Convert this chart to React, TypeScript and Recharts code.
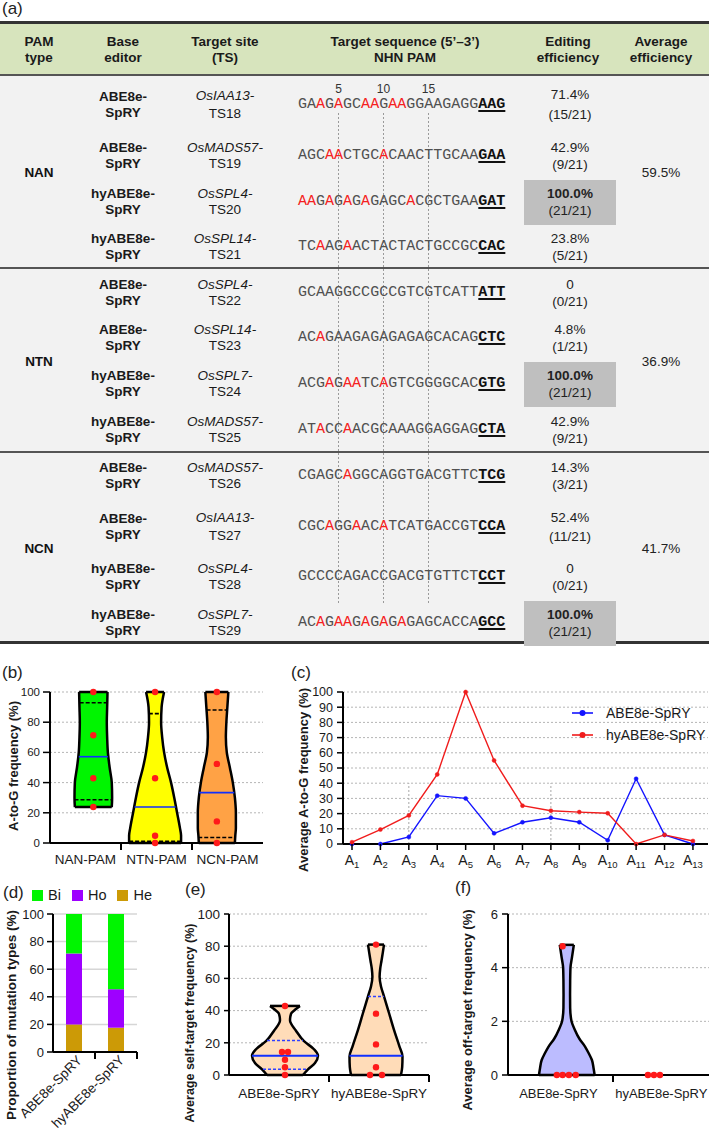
import React from "react";
import {
  ComposedChart,
  LineChart,
  BarChart,
  Area,
  Line,
  Bar,
  Scatter,
  XAxis,
  YAxis,
  CartesianGrid,
  ReferenceLine,
} from "recharts";

const FONT = '"Liberation Sans", Arial, Helvetica, sans-serif';
const MONO = '"Liberation Mono", "Courier New", monospace';

// ---------- (a) table ----------
const pamTypes = ["NAN", "NTN", "NCN"];
const pamAverages = ["59.5%", "36.9%", "41.7%"];
const tsEditors = [
  "ABE8e-SpRY", "ABE8e-SpRY", "hyABE8e-SpRY", "hyABE8e-SpRY",
  "ABE8e-SpRY", "ABE8e-SpRY", "hyABE8e-SpRY", "hyABE8e-SpRY",
  "ABE8e-SpRY", "ABE8e-SpRY", "hyABE8e-SpRY", "hyABE8e-SpRY",
];
const tsGenes = ["OsIAA13", "OsMADS57", "OsSPL4", "OsSPL14", "OsSPL4", "OsSPL14", "OsSPL7", "OsMADS57", "OsMADS57", "OsIAA13", "OsSPL4", "OsSPL7"];
const tsIds = ["TS18", "TS19", "TS20", "TS21", "TS22", "TS23", "TS24", "TS25", "TS26", "TS27", "TS28", "TS29"];
const tsSpacers = [
  "GAAGAGCAAGAAGGAAGAGG", "AGCAACTGCACAACTTGCAA", "AAGAGAGAGAGCACGCTGAA", "TCAAGAACTACTACTGCCGC",
  "GCAAGGCCGCCGTCGTCATT", "ACAGAAGAGAGAGAGCACAG", "ACGAGAATCAGTCGGGGCAC", "ATACCAACGCAAAGGAGGAG",
  "CGAGCAGGCAGGTGACGTTC", "CGCAGGAACATCATGACCGT", "GCCCCAGACCGACGTGTTCT", "ACAGAAGAGAGAGAGCACCA",
];
const tsPams = ["AAG", "GAA", "GAT", "CAC", "ATT", "CTC", "GTG", "CTA", "TCG", "CCA", "CCT", "GCC"];
const tsEdited = [
  [3, 5, 8, 9, 11, 12], [4, 5, 10], [1, 2, 4, 6, 8, 13], [3, 6],
  [], [3], [4, 6, 7, 10], [3, 6],
  [6], [4, 7, 10], [], [3, 5, 6, 8, 10, 12],
];
const tsEfficiency = ["71.4%", "42.9%", "100.0%", "23.8%", "0", "4.8%", "100.0%", "42.9%", "14.3%", "52.4%", "0", "100.0%"];
const tsCounts = ["(15/21)", "(9/21)", "(21/21)", "(5/21)", "(0/21)", "(1/21)", "(21/21)", "(9/21)", "(3/21)", "(11/21)", "(0/21)", "(21/21)"];
const windowMarks = [5, 10, 15];

const rowY = [105, 156, 202, 247, 293, 338, 384, 430, 476, 527, 577, 623];
const sectionY = [173, 362, 549];
const SEQ_LEFT = 298;
const CHAR_W = 9;

// ---------- (b) ----------
const bGroups = ["NAN-PAM", "NTN-PAM", "NCN-PAM"];
const bCenters = [0.61, 1.48, 2.35];
const bLevelsNAN = [23.8, 30, 40, 50, 60, 70, 80, 90, 100];
const bHalfNAN = [0.26, 0.265, 0.26, 0.23, 0.205, 0.195, 0.19, 0.195, 0.2];
const bLevels = [0, 5, 10, 20, 30, 40, 50, 60, 70, 80, 90, 100];
const bHalfNTN = [0.366, 0.366, 0.35, 0.31, 0.27, 0.225, 0.17, 0.127, 0.1, 0.085, 0.092, 0.127];
const bHalfNCN = [0.254, 0.26, 0.268, 0.268, 0.254, 0.225, 0.183, 0.14, 0.127, 0.134, 0.148, 0.162];
const bPoints = [[100, 71.4, 42.9, 23.8], [100, 42.9, 4.8, 0], [100, 52.4, 14.3, 0]];
const bMedians = [57.15, 23.85, 33.35];
const bMedianHalf = [0.205, 0.29, 0.245];
const bQuartiles = [[28.6, 92.9], [1.2, 85.7], [3.6, 88.1]];
const bQuartileHalf = [[0.265, 0.192], [0.366, 0.088], [0.262, 0.145]];

// ---------- (c) ----------
const cPositions = [1, 2, 3, 4, 5, 6, 7, 8, 9, 10, 11, 12, 13];
const cABE = [0, 0, 4.6, 31.8, 30, 7, 14.3, 17.3, 14.3, 2.4, 42.9, 6, 0];
const cHy = [1.2, 9.5, 18.8, 45.8, 100, 55, 25.2, 21.9, 21, 20.2, 0, 6, 2];
const cMarkers = [3, 8];

// ---------- (d) ----------
const dEditors = ["ABE8e-SpRY", "hyABE8e-SpRY"];
const dHe = [20, 17.6];
const dHo = [51.4, 27.9];
const dBi = [28.6, 54.5];

// ---------- (e) ----------
const eEditors = ["ABE8e-SpRY", "hyABE8e-SpRY"];
const eCenters = [0.56, 1.47];
const eLevelsABE = [0, 3.5, 7.5, 12, 16, 21, 27.5, 34, 38, 40.5, 42.9];
const eHalfABE = [0.18, 0.23, 0.3, 0.33, 0.29, 0.19, 0.11, 0.05, 0.06, 0.1, 0.15];
const eLevelsHy = [0, 5, 11.5, 17.6, 28, 38.5, 48.9, 55, 61, 66, 71, 76, 81];
const eHalfHy = [0.25, 0.262, 0.265, 0.235, 0.18, 0.13, 0.08, 0.05, 0.036, 0.042, 0.055, 0.068, 0.08];
const ePointsABE = [42.9, 14.3, 14.3, 9.5, 4.8, 0];
const eJitterABE = [0, -0.03, 0.03, 0, 0, 0];
const ePointsHy = [81, 38.1, 19, 4.8, 0, 0];
const eJitterHy = [0, 0, 0, 0, -0.06, 0.06];
const eMedians = [11.9, 11.9];
const eMedianHalf = [0.33, 0.265];
const eQuartiles = [[3.6, 21.5], [0, 48.8]];
const eQuartileHalf = [[0.22, 0.18], [0.25, 0.08]];

// ---------- (f) ----------
const fEditors = ["ABE8e-SpRY", "hyABE8e-SpRY"];
const fCenters = [0.56, 1.39];
const fLevels = [0, 0.25, 0.55, 0.8, 1.05, 1.35, 1.7, 2.0, 2.5, 3.0, 3.5, 4.0, 4.4, 4.85];
const fHalfABE = [0.265, 0.255, 0.24, 0.21, 0.175, 0.12, 0.075, 0.045, 0.032, 0.031, 0.032, 0.035, 0.05, 0.067];
const fPointsABE = [4.8, 0, 0, 0, 0];
const fJitterABE = [-0.04, -0.095, -0.04, 0.02, 0.085];
const fPointsHy = [0, 0, 0];
const fJitterHy = [-0.057, 0, 0.057];

const axisLineStyle = { stroke: "#000", strokeWidth: 2 };
const tickLineStyle = { stroke: "#000", strokeWidth: 1.5 };

const redDot = (p: any) => <circle cx={p.cx} cy={p.cy} r={3.2} fill="#ff1a1a" />;

function violinRows(levels: number[], halves: number[], center: number) {
  return levels.map((y, i) => ({ y, band: [center - halves[i], center + halves[i]] }));
}

function violin(key: string, levels: number[], halves: number[], center: number, fill: string) {
  const last = levels.length - 1;
  return [
    <Area
      key={key}
      data={violinRows(levels, halves, center)}
      dataKey="band"
      type="monotone"
      fill={fill}
      fillOpacity={1}
      stroke="#000"
      strokeWidth={2.5}
      dot={false}
      activeDot={false}
      legendType="none"
      isAnimationActive={false}
    />,
    <ReferenceLine
      key={key + "-bottom"}
      segment={[{ x: center - halves[0], y: levels[0] }, { x: center + halves[0], y: levels[0] }]}
      stroke="#000"
      strokeWidth={2.5}
    />,
    <ReferenceLine
      key={key + "-top"}
      segment={[{ x: center - halves[last], y: levels[last] }, { x: center + halves[last], y: levels[last] }]}
      stroke="#000"
      strokeWidth={2.5}
    />,
  ];
}

function hLine(key: string, center: number, half: number, y: number, stroke: string, dash?: string, width = 1.6) {
  return (
    <ReferenceLine
      key={key}
      segment={[{ x: center - half, y }, { x: center + half, y }]}
      stroke={stroke}
      strokeWidth={width}
      strokeDasharray={dash}
    />
  );
}

function GroupTick(p: any) {
  const v = p.payload.value;
  if (Number.isInteger(v)) {
    return <line x1={p.x} y1={p.y - 6} x2={p.x} y2={p.y + 1} stroke="#000" strokeWidth={2} />;
  }
  return (
    <text x={p.x} y={p.y + p.dyText} textAnchor="middle" fontSize={p.fontSize} fill="#1a1a1a" fontFamily={FONT}>
      {p.labels[Math.floor(v)]}
    </text>
  );
}

function SubTick(p: any) {
  return (
    <g>
      <line x1={p.x} y1={p.y - 6} x2={p.x} y2={p.y} stroke="#000" strokeWidth={1.5} />
      <text x={p.x} y={p.y + 15} textAnchor="middle" fontSize={14} fill="#1a1a1a" fontFamily={FONT}>
        A<tspan fontSize={9.5} dy={3}>{p.payload.value}</tspan>
      </text>
    </g>
  );
}

function RotTick(p: any) {
  const ax = p.x + 9;
  const ay = p.y + 3;
  return (
    <g>
      <line x1={p.x + 21} y1={p.y - 6} x2={p.x + 21} y2={p.y + 1} stroke="#000" strokeWidth={2} />
      <text x={ax} y={ay} transform={`rotate(-45 ${ax} ${ay})`} textAnchor="end" fontSize={13.5} fill="#1a1a1a" fontFamily={FONT}>
        {p.payload.value}
      </text>
    </g>
  );
}

function PanelLabel({ x, y, text }: { x: number; y: number; text: string }) {
  return (
    <div style={{ position: "absolute", left: x, top: y - 10, lineHeight: "20px", fontSize: 17, color: "#222" }}>{text}</div>
  );
}

function VTitle({ x, y, text, size = 13 }: { x: number; y: number; text: string; size?: number }) {
  return (
    <div
      style={{
        position: "absolute",
        left: x,
        top: y,
        transform: "translate(-50%, -50%) rotate(-90deg)",
        whiteSpace: "nowrap",
        fontWeight: "bold",
        fontSize: size,
        color: "#1a1a1a",
      }}
    >
      {text}
    </div>
  );
}

function Sequence({ i }: { i: number }) {
  return (
    <span>
      {tsSpacers[i].split("").map((ch, k) => (
        <span key={k} style={{ color: tsEdited[i].includes(k + 1) ? "#f52020" : "#505050" }}>{ch}</span>
      ))}
      <span style={{ fontWeight: "bold", color: "#111", textDecoration: "underline", textDecorationThickness: "2px", textUnderlineOffset: "2px" }}>
        {tsPams[i]}
      </span>
    </span>
  );
}

function TablePanel() {
  const headers = [
    [39, "PAM", "type"],
    [123, "Base", "editor"],
    [225, "Target site", "(TS)"],
    [405, "Target sequence (5\u2019\u20133\u2019)", "NHN PAM"],
    [568, "Editing", "efficiency"],
    [661, "Average", "efficiency"],
  ] as const;
  const twoLine = (cx: number, cy: number, w: number, lh: number, a: React.ReactNode, b: React.ReactNode, style: React.CSSProperties = {}) => (
    <div style={{ position: "absolute", left: cx - w / 2, width: w, top: cy - lh, lineHeight: lh + "px", textAlign: "center", fontSize: 13.5, color: "#1a1a1a", ...style }}>
      <div>{a}</div>
      <div>{b}</div>
    </div>
  );
  const dashX = windowMarks.map((n) => SEQ_LEFT + (n - 0.5) * CHAR_W);
  return (
    <>
      <div style={{ position: "absolute", left: 0, top: 22, width: 709, height: 53, background: "#d7e4bd" }} />
      <div style={{ position: "absolute", left: 0, top: 75, width: 709, height: 567, background: "#f2f2f2" }} />
      <div style={{ position: "absolute", left: 0, top: 21, width: 709, height: 3, background: "#333" }} />
      <div style={{ position: "absolute", left: 0, top: 74, width: 709, height: 2, background: "#555" }} />
      <div style={{ position: "absolute", left: 0, top: 267, width: 709, height: 2, background: "#555" }} />
      <div style={{ position: "absolute", left: 0, top: 451, width: 709, height: 2, background: "#555" }} />
      <div style={{ position: "absolute", left: 0, top: 641, width: 709, height: 3, background: "#333" }} />
      {headers.map(([cx, a, b]) => (
        <React.Fragment key={a}>{twoLine(cx, 50, 170, 16, a, b, { fontWeight: "bold" })}</React.Fragment>
      ))}
      {tsEfficiency.map((eff, i) =>
        eff === "100.0%" ? (
          <div key={"box" + i} style={{ position: "absolute", left: 524, width: 92, top: rowY[i] - 22, height: 45, background: "#bfbfbf" }} />
        ) : null
      )}
      <svg style={{ position: "absolute", left: 0, top: 0 }} width={709} height={650}>
        {dashX.map((x) => (
          <line key={x} x1={x} y1={113} x2={x} y2={603} stroke="#9a9a9a" strokeWidth={1} strokeDasharray="2 2" />
        ))}
      </svg>
      {windowMarks.map((n, k) => (
        <div key={n} style={{ position: "absolute", left: dashX[k] - 15, width: 30, top: 83, lineHeight: "12px", textAlign: "center", fontSize: 12, color: "#333" }}>
          {n}
        </div>
      ))}
      {pamTypes.map((t, s) => (
        <React.Fragment key={t}>
          <div style={{ position: "absolute", left: 0, width: 78, top: sectionY[s] - 8, lineHeight: "16px", textAlign: "center", fontWeight: "bold", fontSize: 13.5 }}>{t}</div>
          <div style={{ position: "absolute", left: 611, width: 100, top: sectionY[s] - 8, lineHeight: "16px", textAlign: "center", fontSize: 13.5, color: "#222" }}>{pamAverages[s]}</div>
        </React.Fragment>
      ))}
      {rowY.map((cy, i) => {
        const [ed1, ed2] = tsEditors[i].split("-");
        const tLh = i === 0 || i === 9 ? 18 : 16;
        const eLh = i === 0 ? 20 : i === 9 ? 19 : 17;
        const full = tsEfficiency[i] === "100.0%";
        return (
          <React.Fragment key={i}>
            {twoLine(123, cy, 110, 16, ed1 + "-", ed2, { fontWeight: "bold" })}
            {twoLine(225, cy, 120, tLh, <i>{tsGenes[i]}-</i>, tsIds[i])}
            <div style={{ position: "absolute", left: SEQ_LEFT, top: cy - 9, lineHeight: "18px", fontFamily: MONO, fontSize: 15, whiteSpace: "pre" }}>
              <Sequence i={i} />
            </div>
            {twoLine(570, cy, 100, eLh, full ? <b>{tsEfficiency[i]}</b> : tsEfficiency[i], tsCounts[i], { color: "#222" })}
          </React.Fragment>
        );
      })}
    </>
  );
}

function PanelB() {
  const dots = bPoints.flatMap((pts, g) => pts.map((y) => ({ x: bCenters[g], y })));
  return (
    <ComposedChart layout="vertical" width={275} height={190} margin={{ top: 12, right: 12, bottom: 0, left: 0 }}>
      <CartesianGrid vertical={false} stroke="#b5b5b5" strokeDasharray="2 2" />
      <XAxis
        type="number"
        dataKey="x"
        domain={[0, 3]}
        ticks={[0.5, 1, 1.5, 2, 2.5]}
        interval={0}
        height={27}
        axisLine={axisLineStyle}
        tickLine={false}
        tickSize={6}
        tickMargin={0}
        tick={(p: any) => <GroupTick {...p} labels={bGroups} fontSize={13.5} dyText={14.5} />}
      />
      <YAxis
        type="number"
        dataKey="y"
        domain={[0, 100]}
        ticks={[0, 20, 40, 60, 80, 100]}
        interval={0}
        reversed
        width={50}
        axisLine={axisLineStyle}
        tickLine={tickLineStyle}
        tickSize={7}
        tickMargin={3}
        tick={{ fontSize: 11.5, fill: "#1a1a1a", fontFamily: FONT }}
      />
      {violin("nan", bLevelsNAN, bHalfNAN, bCenters[0], "#00f500")}
      {violin("ntn", bLevels, bHalfNTN, bCenters[1], "#ffff00")}
      {violin("ncn", bLevels, bHalfNCN, bCenters[2], "#ffa245")}
      {bCenters.map((c, g) => hLine("m" + g, c, bMedianHalf[g], bMedians[g], "#1030ff", undefined, 1.6))}
      {bCenters.map((c, g) => hLine("q1" + g, c, bQuartileHalf[g][0], bQuartiles[g][0], "#000", "4 2", 1.6))}
      {bCenters.map((c, g) => hLine("q3" + g, c, bQuartileHalf[g][1], bQuartiles[g][1], "#000", "4 2", 1.6))}
      <Scatter data={dots} dataKey="y" shape={redDot} legendType="none" isAnimationActive={false} />
    </ComposedChart>
  );
}

function PanelC() {
  const rows = cPositions.map((pos, i) => ({ pos, abe: cABE[i], hy: cHy[i] }));
  return (
    <LineChart width={414} height={194} data={rows} margin={{ top: 12, right: 1, bottom: 0, left: 0 }}>
      <CartesianGrid vertical={false} stroke="#b5b5b5" strokeDasharray="2 2" />
      <XAxis
        type="number"
        dataKey="pos"
        domain={[0.683, 13.53]}
        ticks={cPositions}
        interval={0}
        height={30}
        axisLine={axisLineStyle}
        tickLine={false}
        tickSize={6}
        tickMargin={0}
        tick={(p: any) => <SubTick {...p} />}
      />
      <YAxis
        domain={[0, 100]}
        ticks={[0, 10, 20, 30, 40, 50, 60, 70, 80, 90, 100]}
        interval={0}
        width={48}
        axisLine={axisLineStyle}
        tickLine={tickLineStyle}
        tickSize={6}
        tickMargin={4}
        tick={{ fontSize: 12.5, fill: "#1a1a1a", fontFamily: FONT }}
      />
      {cMarkers.map((m) => (
        <ReferenceLine key={m} segment={[{ x: m, y: 0 }, { x: m, y: 40 }]} stroke="#a8a8a8" strokeDasharray="2 2" strokeWidth={1} />
      ))}
      <Line dataKey="abe" stroke="#1414ff" strokeWidth={1.4} dot={{ r: 2, fill: "#1414ff", stroke: "#1414ff", strokeWidth: 0.5 }} isAnimationActive={false} />
      <Line dataKey="hy" stroke="#f01c1c" strokeWidth={1.4} dot={{ r: 2, fill: "#f01c1c", stroke: "#f01c1c", strokeWidth: 0.5 }} isAnimationActive={false} />
    </LineChart>
  );
}

function PanelD() {
  const rows = dEditors.map((name, i) => ({ name, he: dHe[i], ho: dHo[i], bi: dBi[i] }));
  return (
    <BarChart width={145} height={253} data={rows} margin={{ top: 34, right: 8, bottom: 0, left: 0 }} barSize={16}>
      <CartesianGrid vertical={false} stroke="#d6d6d6" strokeWidth={1.5} />
      <XAxis
        dataKey="name"
        interval={0}
        height={81}
        axisLine={axisLineStyle}
        tickLine={false}
        tickSize={6}
        tickMargin={0}
        tick={(p: any) => <RotTick {...p} />}
      />
      <YAxis
        domain={[0, 100]}
        ticks={[0, 20, 40, 60, 80, 100]}
        interval={0}
        width={53}
        axisLine={axisLineStyle}
        tickLine={tickLineStyle}
        tickSize={6}
        tickMargin={3}
        tick={{ fontSize: 13, fill: "#1a1a1a", fontFamily: FONT }}
      />
      <Bar dataKey="he" stackId="s" fill="#cc9a06" isAnimationActive={false} />
      <Bar dataKey="ho" stackId="s" fill="#9e00ff" isAnimationActive={false} />
      <Bar dataKey="bi" stackId="s" fill="#00f500" isAnimationActive={false} />
    </BarChart>
  );
}

function PanelE() {
  const dots = [
    ...ePointsABE.map((y, i) => ({ x: eCenters[0] + eJitterABE[i], y })),
    ...ePointsHy.map((y, i) => ({ x: eCenters[1] + eJitterHy[i], y })),
  ];
  return (
    <ComposedChart layout="vertical" width={255} height={253} margin={{ top: 34, right: 6, bottom: 0, left: 0 }}>
      <CartesianGrid vertical={false} stroke="#b5b5b5" strokeDasharray="2 2" />
      <XAxis
        type="number"
        dataKey="x"
        domain={[0, 2]}
        ticks={[0.5, 1, 1.5, 2]}
        interval={0}
        height={58}
        axisLine={axisLineStyle}
        tickLine={false}
        tickSize={6}
        tickMargin={0}
        tick={(p: any) => <GroupTick {...p} labels={eEditors} fontSize={13.5} dyText={16.5} />}
      />
      <YAxis
        type="number"
        dataKey="y"
        domain={[0, 100]}
        ticks={[0, 20, 40, 60, 80, 100]}
        interval={0}
        reversed
        width={49}
        axisLine={axisLineStyle}
        tickLine={tickLineStyle}
        tickSize={5}
        tickMargin={4}
        tick={{ fontSize: 13.5, fill: "#1a1a1a", fontFamily: FONT }}
      />
      {violin("eabe", eLevelsABE, eHalfABE, eCenters[0], "#ffdcb8")}
      {violin("ehy", eLevelsHy, eHalfHy, eCenters[1], "#ffdcb8")}
      {eCenters.map((c, g) => hLine("em" + g, c, eMedianHalf[g], eMedians[g], "#1030ff", undefined, 2))}
      {eCenters.map((c, g) => hLine("eq1" + g, c, eQuartileHalf[g][0], eQuartiles[g][0], "#3040ff", "3 2", 1.5))}
      {eCenters.map((c, g) => hLine("eq3" + g, c, eQuartileHalf[g][1], eQuartiles[g][1], "#3040ff", "3 2", 1.5))}
      <Scatter data={dots} dataKey="y" shape={redDot} legendType="none" isAnimationActive={false} />
    </ComposedChart>
  );
}

function PanelF() {
  const dots = [
    ...fPointsABE.map((y, i) => ({ x: fCenters[0] + fJitterABE[i], y })),
    ...fPointsHy.map((y, i) => ({ x: fCenters[1] + fJitterHy[i], y })),
  ];
  return (
    <ComposedChart layout="vertical" width={278} height={253} margin={{ top: 34, right: 0, bottom: 0, left: 0 }}>
      <CartesianGrid vertical={false} stroke="#b5b5b5" strokeDasharray="2 2" />
      <XAxis
        type="number"
        dataKey="x"
        domain={[0, 2]}
        ticks={[0.48, 1, 1.46, 2]}
        interval={0}
        height={58}
        axisLine={axisLineStyle}
        tickLine={false}
        tickSize={6}
        tickMargin={0}
        tick={(p: any) => <GroupTick {...p} labels={fEditors} fontSize={13} dyText={16.5} />}
      />
      <YAxis
        type="number"
        dataKey="y"
        domain={[0, 6]}
        ticks={[0, 2, 4, 6]}
        interval={0}
        reversed
        width={68}
        axisLine={axisLineStyle}
        tickLine={tickLineStyle}
        tickSize={6}
        tickMargin={4}
        tick={{ fontSize: 13, fill: "#1a1a1a", fontFamily: FONT }}
      />
      {violin("fabe", fLevels, fHalfABE, fCenters[0], "#bcbcff")}
      <Scatter data={dots} dataKey="y" shape={redDot} legendType="none" isAnimationActive={false} />
    </ComposedChart>
  );
}

const cLegend = [
  { name: "ABE8e-SpRY", color: "#1414ff" },
  { name: "hyABE8e-SpRY", color: "#f01c1c" },
];
const dLegend = [
  { name: "Bi", color: "#00f500" },
  { name: "Ho", color: "#9e00ff" },
  { name: "He", color: "#cc9a06" },
];

export default function App() {
  return (
    <div style={{ position: "relative", width: 709, height: 1133, overflow: "hidden", background: "#fff", fontFamily: FONT, color: "#111" }}>
      <style>{"body{margin:0}"}</style>
      <PanelLabel x={2} y={9} text="(a)" />
      <TablePanel />

      <PanelLabel x={2} y={673} text="(b)" />
      <div style={{ position: "absolute", left: 0, top: 680 }}>
        <PanelB />
      </div>
      <VTitle x={13} y={766} text="A-to-G frequency (%)" />

      <PanelLabel x={291} y={673} text="(c)" />
      <div style={{ position: "absolute", left: 295, top: 680 }}>
        <PanelC />
      </div>
      <VTitle x={303} y={780} text="Average A-to-G frequency (%)" />
      <div style={{ position: "absolute", left: 572, top: 702 }}>
        {cLegend.map((s) => (
          <div key={s.name} style={{ display: "flex", alignItems: "center", height: 22 }}>
            <svg width={21} height={10}>
              <line x1={0} y1={5} x2={21} y2={5} stroke={s.color} strokeWidth={1.6} />
              <circle cx={10.5} cy={5} r={3} fill={s.color} />
            </svg>
            <span style={{ marginLeft: 13, fontSize: 14, color: "#1a1a1a" }}>{s.name}</span>
          </div>
        ))}
      </div>

      <PanelLabel x={3} y={893} text="(d)" />
      <div style={{ position: "absolute", left: 32, top: 886, display: "flex", alignItems: "center", height: 18 }}>
        {dLegend.map((s) => (
          <div key={s.name} style={{ display: "flex", alignItems: "center", marginRight: 11 }}>
            <div style={{ width: 11, height: 11, background: s.color }} />
            <span style={{ marginLeft: 5, fontSize: 14.5, color: "#1a1a1a" }}>{s.name}</span>
          </div>
        ))}
      </div>
      <div style={{ position: "absolute", left: 0, top: 880 }}>
        <PanelD />
      </div>
      <VTitle x={11} y={1015} text="Proportion of mutation types (%)" size={13.5} />

      <PanelLabel x={185} y={890} text="(e)" />
      <div style={{ position: "absolute", left: 180, top: 880 }}>
        <PanelE />
      </div>
      <VTitle x={190} y={1023} text="Average self-target frequency (%)" size={12.5} />

      <PanelLabel x={455} y={888} text="(f)" />
      <div style={{ position: "absolute", left: 440, top: 880 }}>
        <PanelF />
      </div>
      <VTitle x={467} y={1010} text="Average off-target frequency (%)" />
    </div>
  );
}
